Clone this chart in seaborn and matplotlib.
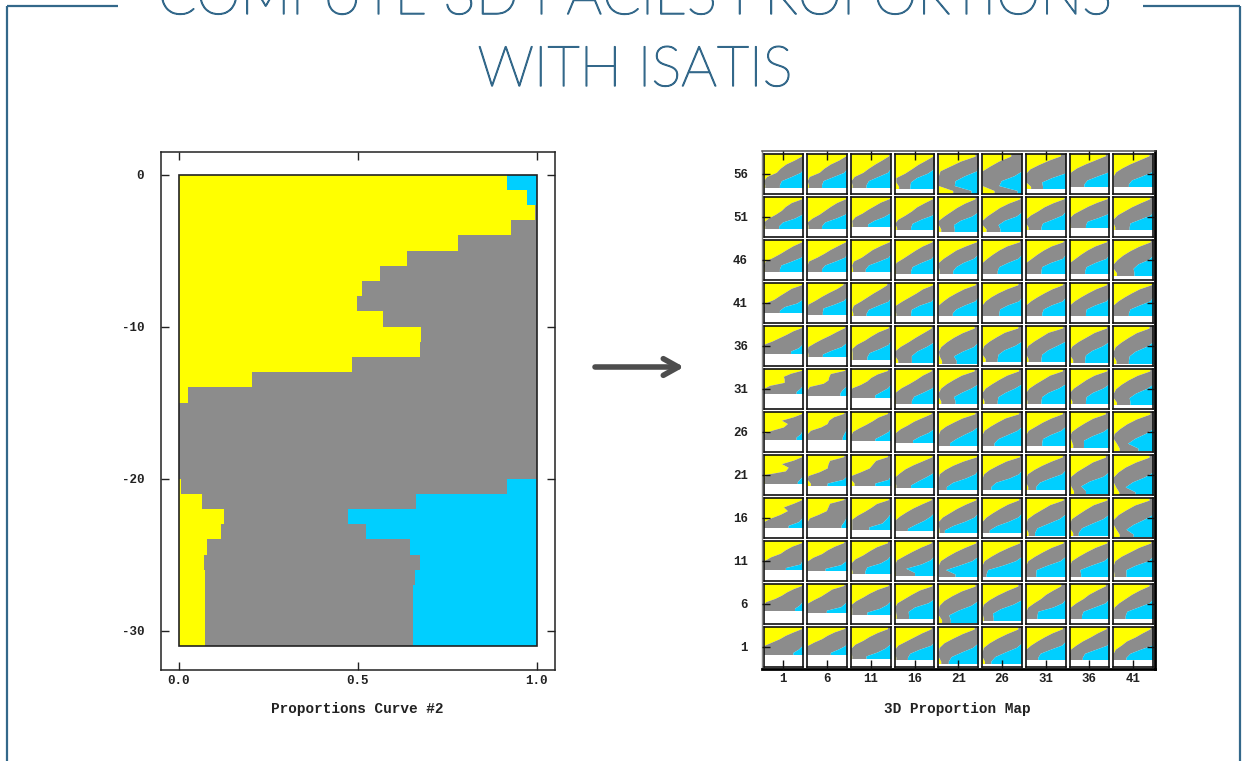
import matplotlib
matplotlib.use("Agg")
import matplotlib.pyplot as plt
import matplotlib.patheffects as pe
import pandas as pd
import seaborn as sns

sns.set_theme(style="white")
plt.rcParams["font.family"] = ["Liberation Mono", "DejaVu Sans Mono"]

title_lines = ["COMPUTE 3D FACIES PROPORTIONS", "WITH ISATIS"]
curve_label = "Proportions Curve #2"
map_label = "3D Proportion Map"
facies = ["blue", "grey", "yellow"]
facies_colors = {"yellow": "#FFFF00", "grey": "#8C8C8C", "blue": "#00CFFF"}

# Left panel: one value per depth unit, 0 to -31, in percent of the width
curve_yellow_end = [91.6, 97.4, 99.5, 92.7, 78, 63.9, 56.2, 51.3, 49.8, 57.1, 67.8,
                    67.3, 48.4, 20.6, 2.6, 0, 0, 0, 0, 0, 0.7, 6.5, 12.8, 11.9, 8,
                    7, 7.4, 7.4, 7.4, 7.4, 7.4]
curve_blue_start = [91.6, 97.4, 100, 100, 100, 100, 100, 100, 100, 100, 100,
                    100, 100, 100, 100, 100, 100, 100, 100, 100, 91.6, 66.3, 47.4,
                    52.2, 64.5, 67.3, 65.9, 65.3, 65.3, 65.3, 65.3]
curve_yticks = [0, -10, -20, -30]
curve_xticks = [0.0, 0.5, 1.0]

# Right panel: layers top to bottom, columns left to right
map_rows = [56, 51, 46, 41, 36, 31, 26, 21, 16, 11, 6, 1]
map_cols = [1, 6, 11, 16, 21, 26, 31, 36, 41]

# White (no data) share at the foot of each small map, percent of its height
white_share = [
    [18, 18, 18, 14, 3, 3, 14, 20, 20],
    [23, 23, 28, 19, 15, 15, 20, 25, 20],
    [23, 23, 23, 18, 18, 18, 18, 18, 13],
    [27, 23, 19, 19, 20, 20, 20, 20, 20],
    [33, 25, 18, 9, 8, 13, 13, 11, 8],
    [40, 36, 31, 16, 15, 15, 15, 15, 12],
    [33, 33, 29, 25, 18, 18, 18, 13, 4],
    [29, 25, 25, 20, 16, 16, 16, 5, 2],
    [27, 27, 23, 19, 15, 15, 8, 8, 4],
    [29, 27, 20, 16, 12, 12, 12, 12, 12],
    [35, 30, 25, 16, 5, 10, 16, 16, 16],
    [32, 32, 23, 19, 9, 9, 19, 19, 19],
]

# Eight depth levels per small map: right end of yellow, percent of the width
yellow_end = [
    [(97,78,56,42,32,8,0,3), (97,80,58,42,30,5,0,3), (95,78,60,44,30,8,0,3), (97,78,58,42,25,3,3,10), (92,56,30,4,0,0,0,36), (72,42,20,0,0,0,0,30), (87,57,32,10,0,0,0,12), (90,65,40,18,3,0,0,0), (90,66,42,22,6,0,0,0)],
    [(97,70,55,45,30,12,0,3), (97,74,58,44,30,12,0,2), (97,74,58,42,28,10,2,3), (95,74,55,42,26,8,0,5), (92,66,46,30,14,0,0,6), (95,66,44,28,12,0,0,10), (96,68,46,30,12,0,0,6), (95,68,46,28,10,0,0,2), (92,68,46,28,10,0,0,4)],
    [(97,75,58,42,24,4,0,2), (97,77,58,42,24,3,0,0), (97,74,54,40,26,6,2,4), (94,70,52,36,20,3,0,2), (96,68,44,28,12,0,0,2), (94,62,42,26,12,0,0,0), (94,64,44,28,14,0,0,0), (93,64,44,28,14,0,0,0), (93,64,42,24,10,0,0,8)],
    [(97,70,55,40,26,4,0,0), (90,74,54,36,20,2,0,0), (90,74,56,40,24,6,2,5), (96,70,54,36,18,2,0,3), (93,64,44,26,12,0,0,0), (90,62,40,22,8,0,0,0), (93,66,46,28,12,0,0,0), (93,66,46,28,12,0,0,0), (96,66,46,28,12,0,0,0)],
    [(97,74,58,40,22,0,0,0), (94,74,56,36,18,2,0,2), (94,68,50,34,14,2,3,3), (92,72,52,34,14,0,0,8), (90,60,38,20,6,0,2,8), (90,56,36,18,4,0,0,8), (93,56,38,20,5,0,0,6), (93,62,42,22,6,0,0,8), (90,58,38,20,5,0,0,7)],
    [(97,68,50,52,52,15,0,0), (94,58,54,52,40,5,0,0), (92,66,50,40,24,2,0,0), (92,70,54,36,16,2,0,2), (90,58,38,20,6,0,0,6), (92,62,42,24,8,0,0,5), (92,60,42,24,8,0,0,3), (94,62,42,26,10,0,0,6), (92,60,38,20,6,0,0,8)],
    [(97,75,45,60,50,20,0,0), (92,66,54,50,34,8,0,0), (92,68,54,38,20,4,0,0), (92,70,48,32,14,2,0,0), (92,60,38,18,4,0,0,0), (92,58,38,20,5,0,0,0), (92,64,42,24,6,0,0,0), (90,58,38,20,5,0,4,8), (92,58,34,16,2,0,8,15)],
    [(97,75,45,62,55,5,0,2), (92,56,52,50,30,2,0,8), (92,62,54,46,24,0,0,8), (94,70,46,26,12,0,0,3), (96,62,36,16,2,0,0,0), (94,60,38,18,4,0,0,0), (92,64,40,20,4,0,0,5), (90,58,38,18,3,0,3,10), (90,56,30,12,0,0,6,14)],
    [(97,75,50,60,42,18,0,0), (92,56,52,48,28,5,0,0), (94,64,50,34,16,2,2,2), (92,68,46,28,12,0,0,0), (94,68,46,28,10,0,0,2), (92,64,44,26,10,0,0,0), (94,60,40,20,4,0,0,6), (94,60,40,22,5,0,0,8), (90,54,32,12,0,0,7,15)],
    [(97,72,55,42,18,2,0,0), (92,68,50,36,14,0,0,0), (92,64,46,30,10,0,0,3), (92,66,44,24,5,0,0,2), (94,66,42,22,5,0,0,0), (94,66,42,22,5,0,0,0), (94,64,42,22,5,0,0,0), (94,64,42,22,5,0,0,0), (94,64,42,20,4,0,0,2)],
    [(97,75,58,45,28,5,0,0), (92,62,48,34,16,0,0,0), (94,66,46,30,12,0,2,2), (94,62,42,24,6,0,2,4), (92,58,34,14,2,0,0,8), (90,62,38,18,3,0,0,3), (88,68,50,37,20,5,0,0), (90,68,48,34,16,2,0,0), (90,66,46,30,14,2,0,0)],
    [(97,75,55,40,20,0,0,0), (94,68,50,36,16,0,0,0), (92,66,46,30,10,0,0,2), (92,68,48,28,8,0,0,3), (90,60,36,14,2,0,0,6), (90,62,38,18,3,0,0,6), (92,66,46,28,12,0,0,0), (92,70,52,32,16,2,0,0), (93,73,55,33,20,5,0,0)],
]

# Same levels: left end of blue, percent of the width (100 = no blue)
blue_start = [
    [(100,100,100,100,93,70,45,40), (100,100,100,100,92,66,40,36), (100,100,100,100,92,68,44,38), (100,100,100,98,82,55,40,38), (100,100,100,96,66,42,40,82), (100,100,100,100,80,48,42,88), (100,100,100,100,97,65,40,42), (100,100,100,100,98,70,44,36), (100,100,100,100,96,72,46,38)],
    [(100,100,100,100,97,78,48,38), (100,100,100,100,95,72,44,36), (100,100,100,100,98,82,58,42), (100,100,100,100,94,66,44,40), (100,100,100,100,84,55,38,40), (100,100,100,100,86,56,40,45), (98,100,100,100,92,68,42,38), (99,100,100,100,96,72,44,40), (100,100,100,100,94,68,42,40)],
    [(100,100,100,100,94,70,44,40), (100,100,100,100,94,70,44,36), (100,100,100,100,94,70,44,36), (100,100,100,100,92,66,44,40), (100,100,100,100,88,62,44,36), (100,100,100,100,90,64,42,38), (100,100,100,100,92,62,40,38), (100,100,100,100,92,64,42,38), (100,100,100,100,88,62,50,52)],
    [(100,100,100,100,98,84,52,40), (100,100,100,100,92,68,40,38), (100,100,100,100,94,68,44,38), (100,100,100,100,92,62,42,40), (100,100,100,100,92,66,44,35), (100,100,100,100,92,64,44,42), (99,100,100,100,92,64,44,40), (100,100,100,100,92,64,42,40), (98,100,100,100,92,66,42,38)],
    [(100,100,100,100,98,97,88,68), (100,100,100,100,98,86,60,38), (100,100,100,100,94,72,46,40), (100,100,100,99,80,56,42,42), (100,100,100,100,88,60,38,45), (100,100,100,100,82,55,40,38), (100,100,100,100,78,55,40,38), (100,100,100,100,82,56,40,38), (100,100,100,100,82,55,40,38)],
    [(100,100,100,100,100,98,92,82), (100,100,100,100,100,97,88,82), (100,100,100,100,100,92,76,60), (100,100,100,100,94,72,48,42), (100,100,100,100,82,58,38,42), (100,100,100,100,82,58,40,38), (100,100,100,100,82,56,40,38), (100,100,100,100,84,58,42,40), (100,100,100,100,82,56,40,42)],
    [(100,100,100,100,100,97,93,82), (99,100,100,100,100,97,92,88), (99,100,100,100,100,94,78,60), (100,100,100,100,98,84,62,45), (100,100,100,100,86,64,44,28), (100,100,100,100,88,64,40,30), (100,100,100,100,88,62,42,40), (100,100,100,100,84,56,35,35), (100,100,100,100,80,54,36,62)],
    [(100,100,100,100,100,100,94,85), (100,100,100,100,100,100,90,50), (100,100,100,100,100,99,94,60), (100,100,100,100,96,78,58,40), (100,100,100,100,92,68,36,20), (100,100,100,100,92,68,34,22), (100,100,100,100,90,60,34,25), (100,100,100,100,84,50,28,40), (100,100,100,100,78,48,30,55)],
    [(100,100,100,100,100,97,88,62), (100,100,100,100,100,97,92,85), (100,100,100,100,96,88,78,45), (100,100,100,100,90,74,52,32), (100,100,100,100,90,66,36,15), (100,100,100,100,90,66,36,18), (100,100,100,100,84,56,28,22), (100,100,100,100,84,56,30,22), (100,100,100,98,76,50,32,50)],
    [(100,100,100,100,100,97,92,55), (100,100,100,100,100,97,84,45), (100,100,100,100,92,74,40,35), (100,100,100,100,90,66,28,50), (100,100,100,100,84,52,18,42), (100,100,100,100,84,52,14,10), (100,100,100,100,86,54,26,25), (100,100,100,100,86,54,26,28), (100,100,100,100,88,56,32,32)],
    [(100,100,100,100,100,97,90,78), (100,100,100,100,100,95,84,48), (100,100,100,100,100,90,72,40), (100,100,100,100,84,50,34,35), (100,100,100,100,82,50,26,30), (100,100,100,100,78,46,26,28), (100,100,100,100,92,68,30,28), (100,100,100,100,90,62,34,30), (100,100,100,100,90,62,34,30)],
    [(100,100,100,100,100,97,88,74), (99,100,100,100,100,95,78,58), (100,100,100,100,98,86,66,38), (100,100,100,100,92,62,38,32), (100,100,100,100,86,58,32,25), (100,100,100,100,86,58,32,22), (100,100,100,100,90,62,36,30), (100,100,100,100,94,66,38,32), (100,100,100,100,98,68,42,32)],
]

INK = "#222222"
FRAME = "#33688A"
W, H = 1242, 761


def box(x0, y0, x1, y1):
    return [x0 / W, 1 - y1 / H, (x1 - x0) / W, (y1 - y0) / H]


def draw_stack(ax, yellow, blue, top, bottom, element="bars"):
    """Stacked horizontal shares; first value belongs to the top band of [bottom, top]."""
    n = len(yellow)
    step = (top - bottom) / n
    yellow, blue = list(yellow), list(blue)
    if element == "poly":
        # poly marks join band centres: carry the end values past both ends, then clip
        yellow = yellow[:1] + yellow + yellow[-1:]
        blue = blue[:1] + blue + blue[-1:]
        n += 2
        hi, lo = top + step, bottom - step
    else:
        hi, lo = top, bottom
    edges = [lo + step * k for k in range(n + 1)]
    mids = [hi - step * (k + 0.5) for k in range(n)]
    df = pd.DataFrame({
        "depth": mids * 3,
        "share": [a / 100 for a in yellow]
                 + [(b - a) / 100 for a, b in zip(yellow, blue)]
                 + [(100 - b) / 100 for b in blue],
        "facies": ["yellow"] * n + ["grey"] * n + ["blue"] * n,
    })
    sns.histplot(df, y="depth", weights="share", hue="facies", hue_order=facies,
                 bins=edges, multiple="stack", element=element, palette=facies_colors,
                 alpha=1, linewidth=0, legend=False, ax=ax)
    ax.set(xlabel="", ylabel="")
    if element == "poly":
        clip = plt.Rectangle((0, bottom), 1, top - bottom, transform=ax.transData)
        for coll in ax.collections:
            coll.set_clip_path(clip)


fig = plt.figure(figsize=(W / 100, H / 100), dpi=100, facecolor="white")

# Slide furniture
deco = fig.add_axes([0, 0, 1, 1], zorder=0)
deco.set_xlim(0, W)
deco.set_ylim(H, 0)
deco.axis("off")
for xs, ys in [((7, 7), (6, H)), ((7, 118), (6, 6)), ((1143, 1240), (6, 6)), ((1240, 1240), (6, H))]:
    deco.plot(xs, ys, color=FRAME, lw=1.6, solid_capstyle="butt")
thicken = [pe.withStroke(linewidth=1.0, foreground=FRAME)]
deco.text(635, 14, title_lines[0], ha="center", va="baseline", color=FRAME, fontsize=40.5,
          family="Lato", fontweight="light", clip_on=False, path_effects=thicken)
deco.text(635, 86, title_lines[1], ha="center", va="baseline", color=FRAME, fontsize=40.5,
          family="Lato", fontweight="light", path_effects=thicken)
deco.annotate("", xy=(684, 367), xytext=(595, 367),
              arrowprops=dict(arrowstyle="->,head_length=0.9,head_width=0.5",
                              color="#4D4D4D", lw=4, shrinkA=0, shrinkB=0))

# Left: proportion curve
ax = fig.add_axes(box(160.7, 152, 554.7, 669.5), zorder=1)
draw_stack(ax, curve_yellow_end, curve_blue_start, 0, -31)
ax.set_xlim(-0.05, 1.05)
ax.set_ylim(-32.55, 1.48)
ax.add_patch(plt.Rectangle((0, -31), 1, 31, fill=False, ec=INK, lw=1.2, zorder=3))
ax.set_xticks(curve_xticks, [f"{v:.1f}" for v in curve_xticks])
ax.set_yticks(curve_yticks, [str(v) for v in curve_yticks])
ax.tick_params(axis="x", direction="in", length=5.5, width=1, color=INK, top=True,
               bottom=True, labelsize=9, labelcolor=INK, pad=4)
ax.tick_params(axis="y", direction="in", length=5.5, width=1, color=INK, right=True,
               left=True, labelsize=9, labelcolor=INK, pad=12)
for label in ax.get_xticklabels() + ax.get_yticklabels():
    label.set_fontweight("bold")
for spine in ax.spines.values():
    spine.set_color(INK)
    spine.set_linewidth(1.1)
fig.text(357 / W, 1 - 709 / H, curve_label, ha="center", va="center", fontsize=10.4,
         fontweight="bold", color=INK)

# Right: map of small proportion curves
grid = fig.add_axes(box(762, 151, 1155, 669), zorder=1, facecolor="none")
grid.set_axisbelow(False)
grid.set_xlim((762 - 783.4) / 43.72, (1155 - 783.4) / 43.72)
grid.set_ylim((646.9 - 669) / 43.0, (646.9 - 151) / 43.0)
n_rows = len(map_rows)
for j in range(n_rows):
    row_pos = n_rows - 1 - j
    for i in range(len(map_cols)):
        small = grid.inset_axes([i - 0.455, row_pos - 0.47, 0.91, 0.94],
                                transform=grid.transData, zorder=1)
        w = white_share[j][i]
        draw_stack(small, yellow_end[j][i], blue_start[j][i], 100, w, element="poly")
        small.set_xlim(0, 1)
        small.set_ylim(0, 100)
        small.set_xticks([])
        small.set_yticks([])
        for spine in small.spines.values():
            spine.set_color("#111111")
            spine.set_linewidth(1.2)
grid.set_xticks(range(len(map_cols)), [str(v) for v in map_cols])
grid.set_yticks([n_rows - 1 - j for j in range(n_rows)], [str(v) for v in map_rows])
grid.tick_params(axis="x", direction="in", length=6.5, width=1, color="#111111", top=True,
                 bottom=True, labelsize=9, labelcolor=INK, pad=3)
grid.tick_params(axis="y", direction="in", length=5.5, width=1, color="#111111", left=True,
                 right=True, labelsize=9, labelcolor=INK, pad=10)
for label in grid.get_xticklabels() + grid.get_yticklabels():
    label.set_fontweight("bold")
grid.spines["top"].set(color="#555555", linewidth=1.1)
grid.spines["left"].set(color="#888888", linewidth=1.0)
grid.spines["bottom"].set(color="black", linewidth=2.0)
grid.spines["right"].set(color="black", linewidth=2.0)
fig.text(957 / W, 1 - 709 / H, map_label, ha="center", va="center", fontsize=10.4,
         fontweight="bold", color=INK)

fig.savefig("out.png", dpi=100)
